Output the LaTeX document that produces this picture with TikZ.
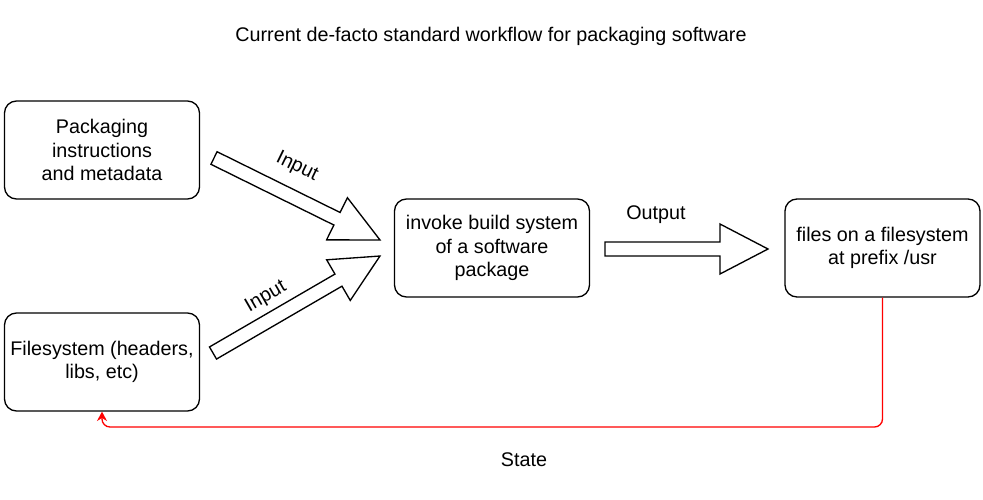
\documentclass[tikz,border=0pt]{standalone}
\usepackage{fontspec}
\setmainfont{Liberation Sans}
\usetikzlibrary{arrows.meta}
\begin{document}
\begin{tikzpicture}[x=0.75pt,y=-0.75pt,
  every node/.style={font=\fontsize{14.8}{17.6}\selectfont},
  box/.style={draw, line width=1pt, rounded corners=9pt, minimum width=146.25pt, minimum height=73.5pt, align=center, inner sep=0pt},
  blockarrow/.style={draw, line width=1pt, fill=white, line join=miter},
  statelink/.style={draw=red, line width=1pt, rounded corners=6pt, -{Stealth[length=7pt,width=7.5pt]}}
]
\useasboundingbox (0,0) rectangle (983,500);

\node (title) at (491,36) {Current de-facto standard workflow for packaging software};

\node[box] (A) at (102,150) {Packaging\\instructions\\and metadata};
\node[box] (B) at (102,362) {Filesystem (headers,\\libs, etc)};
\node[box] (C) at (492,248) {invoke build system\\of a software\\package};
\node[box] (D) at (882.5,248) {files on a filesystem\\at prefix /usr};

% block arrows
\coordinate (in1) at (214,158);
\coordinate (in2) at (213,353);
\coordinate (out) at (605,249);
\begin{scope}[shift={(in1)}, rotate=-26.29]
  \draw[blockarrow] (0,-7) -- (137.2,-7) -- (137.2,-23.5) -- (185.2,0) -- (137.2,23.5) -- (137.2,7) -- (0,7) -- cycle;
\end{scope}
\begin{scope}[shift={(in2)}, rotate=30.15]
  \draw[blockarrow] (0,-7) -- (145.1,-7) -- (145.1,-23.5) -- (193.1,0) -- (145.1,23.5) -- (145.1,7) -- (0,7) -- cycle;
\end{scope}
\begin{scope}[shift={(out)}]
  \draw[blockarrow] (0,-7) -- (115,-7) -- (115,-25) -- (163,0) -- (115,25) -- (115,7) -- (0,7) -- cycle;
\end{scope}

\node[rotate=-26] (l1) at (297,167) {Input};
\node[rotate=30] (l2) at (266,297) {Input};
\node (l3) at (656,215) {Output};
\node (l4) at (524,460) {State};

\coordinate (bend) at (882.5,427);
\draw[statelink] (D.south) -- (bend) -| (B.south);
\end{tikzpicture}
\end{document}
